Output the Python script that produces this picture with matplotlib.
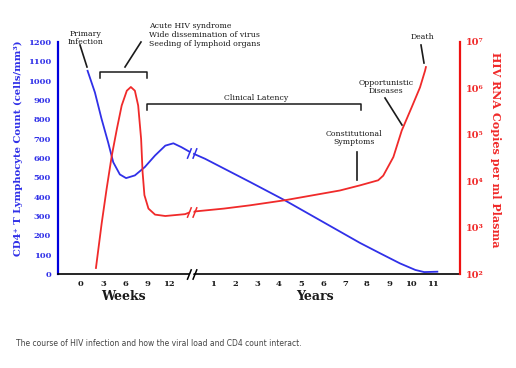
import matplotlib.pyplot as plt
from matplotlib.lines import Line2D
from matplotlib.path import Path

plt.rcParams['font.family'] = ['DejaVu Serif']

# Ось времени: недели после заражения, затем годы (разрыв между ними)
week_ticks = [0, 3, 6, 9, 12]
year_ticks = [1, 2, 3, 4, 5, 6, 7, 8, 9, 10, 11]

# CD4+ (клеток/мм3)
cd4_weeks = [0.9, 1.9, 2.8, 3.7, 4.4, 5.3, 6.15, 7.35, 8.7, 10.1, 11.5, 12.6, 13.7, 15.0]
cd4_weeks_val = [1051, 939, 803, 681, 578, 515, 496, 510, 553, 613, 664, 676, 656, 628]
cd4_years = [0.0, 0.64, 2.7, 4.27, 7.68, 8.6, 9.5, 10.2, 10.6, 11.2]
cd4_years_val = [628, 596, 475, 381, 161, 107, 55, 21, 10, 12]

# РНК ВИЧ, log10(копий/мл)
rna_weeks = [2.04, 2.82, 3.5, 4.2, 4.9, 5.55, 6.25, 6.8, 7.35, 7.8, 8.2, 8.4, 8.65,
             9.2, 10.1, 11.5, 14.2, 15.0]
rna_weeks_log = [2.13, 3.09, 3.84, 4.55, 5.13, 5.63, 5.95, 6.03, 5.95, 5.63, 4.91, 4.20, 3.70,
                 3.41, 3.28, 3.25, 3.29, 3.34]
rna_years = [0.0, 1.5, 2.68, 4.27, 6.77, 7.68, 8.51, 8.74, 9.2, 9.58, 10.03, 10.41, 10.64, 10.68]
rna_years_log = [3.34, 3.41, 3.48, 3.59, 3.80, 3.91, 4.02, 4.12, 4.52, 5.09, 5.59, 6.02, 6.38, 6.46]

BLUE = '#3030e8'
RED = '#f02a2a'
DARK = '#1a1a1a'


def wpos(weeks):
    return [w / 3 for w in weeks]


def ypos(years):
    return [5 + y for y in years]


def fx(px):
    return px / 516


def fy(py):
    return 1 - py / 368


fig = plt.figure(figsize=(5.16, 3.68), dpi=100)
ax = fig.add_axes([0.1124, 0.2554, 0.7791, 0.6305])
ax2 = ax.twinx()

ax.plot(wpos(cd4_weeks) + ypos(cd4_years), cd4_weeks_val + cd4_years_val, color=BLUE, lw=1.3)
rna = [10 ** v for v in rna_weeks_log + rna_years_log]
ax2.plot(wpos(rna_weeks) + ypos(rna_years), rna, color=RED, lw=1.3)

ax.set_xlim(-1.045, 17.23)
ax.set_ylim(0, 1200)
ax2.set_yscale('log')
ax2.set_ylim(1e2, 1e7)

# Оси
for s in ['top', 'right']:
    ax.spines[s].set_visible(False)
for s in ['top', 'left', 'bottom']:
    ax2.spines[s].set_visible(False)
ax.spines['left'].set_color('#0000dd')
ax.spines['left'].set_linewidth(1.6)
ax.spines['bottom'].set_color('black')
ax.spines['bottom'].set_linewidth(1.2)
ax2.spines['right'].set_color('#ee1111')
ax2.spines['right'].set_linewidth(1.6)

ax.set_yticks(range(0, 1201, 100))
ax.tick_params(axis='y', length=0, pad=5, labelsize=6, labelcolor=BLUE)
ax.set_xticks(wpos(week_ticks) + ypos(year_ticks))
ax.set_xticklabels([str(t) for t in week_ticks + year_ticks])
ax.tick_params(axis='x', length=0, pad=4, labelsize=6, labelcolor=DARK)
for lab in ax.get_xticklabels() + ax.get_yticklabels():
    lab.set_fontweight('bold')

ax2.set_yticks([1e2, 1e3, 1e4, 1e5, 1e6, 1e7])
ax2.set_yticklabels(['10²', '10³', '10⁴', '10⁵', '10⁶', '10⁷'])
ax2.minorticks_off()
ax2.tick_params(axis='y', length=0, pad=4, labelsize=7, labelcolor=RED)
for lab in ax2.get_yticklabels():
    lab.set_fontweight('bold')

# Знаки разрыва "//"
single = Path([(-1, -2.5), (1, 2.5)], [Path.MOVETO, Path.LINETO])
double = Path([(-2.0, -2.5), (0.0, 2.5), (0.6, -2.5), (2.6, 2.5)],
              [Path.MOVETO, Path.LINETO, Path.MOVETO, Path.LINETO])


def break_mark(axis, x, y, color):
    axis.plot([x], [y], marker=single, ms=5, mew=2.2, color='white', clip_on=False, zorder=5)
    axis.plot([x], [y], marker=double, ms=8, mew=1.1, mfc='none', color=color,
              clip_on=False, zorder=6)


break_mark(ax, ypos([0])[0], 0, 'black')
break_mark(ax, ypos(cd4_years)[0], cd4_years_val[0], BLUE)
break_mark(ax2, ypos(rna_years)[0], 10 ** rna_years_log[0], RED)

# Подписи осей
fig.text(fx(18), fy(148), 'CD4⁺ T Lymphocyte Count (cells/mm³)', rotation=90,
         ha='center', va='center', fontsize=7.2, fontweight='bold', color=BLUE)
fig.text(fx(496), fy(150), 'HIV RNA Copies per ml Plasma', rotation=-90,
         ha='center', va='center', fontsize=8, fontweight='bold', color=RED)
fig.text(fx(123), fy(296), 'Weeks', ha='center', va='center', fontsize=9,
         fontweight='bold', color=DARK)
fig.text(fx(315), fy(296), 'Years', ha='center', va='center', fontsize=9,
         fontweight='bold', color=DARK)

# Аннотации
ann = dict(fontsize=5.6, color=DARK, linespacing=1.15)
fig.text(fx(86), fy(38), 'Primary\nInfection', ha='center', va='center', **ann)
fig.text(fx(149), fy(35), 'Acute HIV syndrome\nWide dissemination of virus\nSeeding of lymphoid organs',
         ha='left', va='center', **ann)
fig.text(fx(256), fy(98), 'Clinical Latency', ha='center', va='center', **ann)
fig.text(fx(354), fy(138), 'Constitutional\nSymptoms', ha='center', va='center', **ann)
fig.text(fx(386), fy(87), 'Opportunistic\nDiseases', ha='center', va='center', **ann)
fig.text(fx(422), fy(37), 'Death', ha='center', va='center', **ann)


def seg(points, lw=1.2):
    fig.add_artist(Line2D([fx(p[0]) for p in points], [fy(p[1]) for p in points],
                          transform=fig.transFigure, color=DARK, lw=lw))


seg([(80, 45), (87, 67)])
seg([(141, 42), (125, 67)])
seg([(357, 152), (357, 180)])
seg([(385, 98), (402, 125)])
seg([(421, 45), (424, 63)])
# скобки
seg([(100, 78), (100, 72), (147, 72), (147, 78)], lw=1.1)
seg([(147, 110), (147, 104), (361, 104), (361, 110)], lw=1.1)

fig.text(fx(16), fy(343), 'The course of HIV infection and how the viral load and CD4 count interact.',
         family='DejaVu Sans', fontsize=5.5, color='#444444', ha='left', va='center')

fig.savefig('out.png', dpi=100, facecolor='white')
